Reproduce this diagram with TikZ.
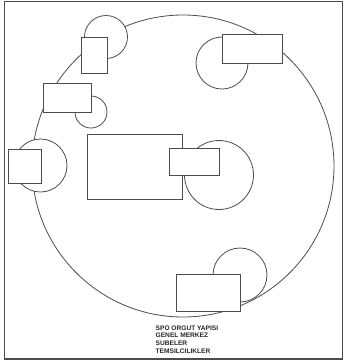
\documentclass[tikz,border=0pt]{standalone}
\usepackage{fontspec}
\setmainfont{Liberation Sans}
\begin{document}
\begin{tikzpicture}[x=1pt,y=-1pt,
  shape line/.style={draw=black!70,line width=0.8pt,fill=white,inner sep=0pt,outer sep=0pt},
  ring/.style={shape line,circle,minimum size=#1},
  box/.style 2 args={shape line,rectangle,minimum width=#1,minimum height=#2},
  frameline/.style={draw=black!70,line width=1.5pt}]
\useasboundingbox (0,0) rectangle (346,360);
\draw[frameline] (4.5,1.5) rectangle (342.5,359);
% big circle
\node[ring=302pt] (big) at (183,166) {};
% small circles
\node[ring=43pt] (c1) at (106,37) {};
\node[ring=52pt] (c2) at (222,63) {};
\node[ring=32pt] (c3) at (91,112) {};
\node[ring=53pt] (c4) at (40.5,165.5) {};
\node[ring=69pt] (c5) at (219,175) {};
\node[ring=54pt] (c6) at (240,275) {};
% rectangles
\node[box={26pt}{36pt}] (r1) at (94,55) {};
\node[box={60pt}{29pt}] (r2) at (252,48.5) {};
\node[box={48pt}{29pt}] (r3) at (67,97.5) {};
\node[box={33pt}{34pt}] (r4) at (24.5,166.5) {};
\node[box={95pt}{65pt}] (r5) at (134.5,166.5) {};
\node[box={50pt}{27pt}] (r6) at (194,161.5) {};
\node[box={64pt}{37pt}] (r7) at (208,292.5) {};
% legend
\node[anchor=north west,align=left,inner sep=0pt,font=\bfseries\fontsize{6.6}{7.6}\selectfont,text=black!85] (legend) at (155.5,325.5)
  {SPO ORGUT YAPISI\\GENEL MERKEZ\\SUBELER\\TEMSILCILIKLER};
\end{tikzpicture}
\end{document}
